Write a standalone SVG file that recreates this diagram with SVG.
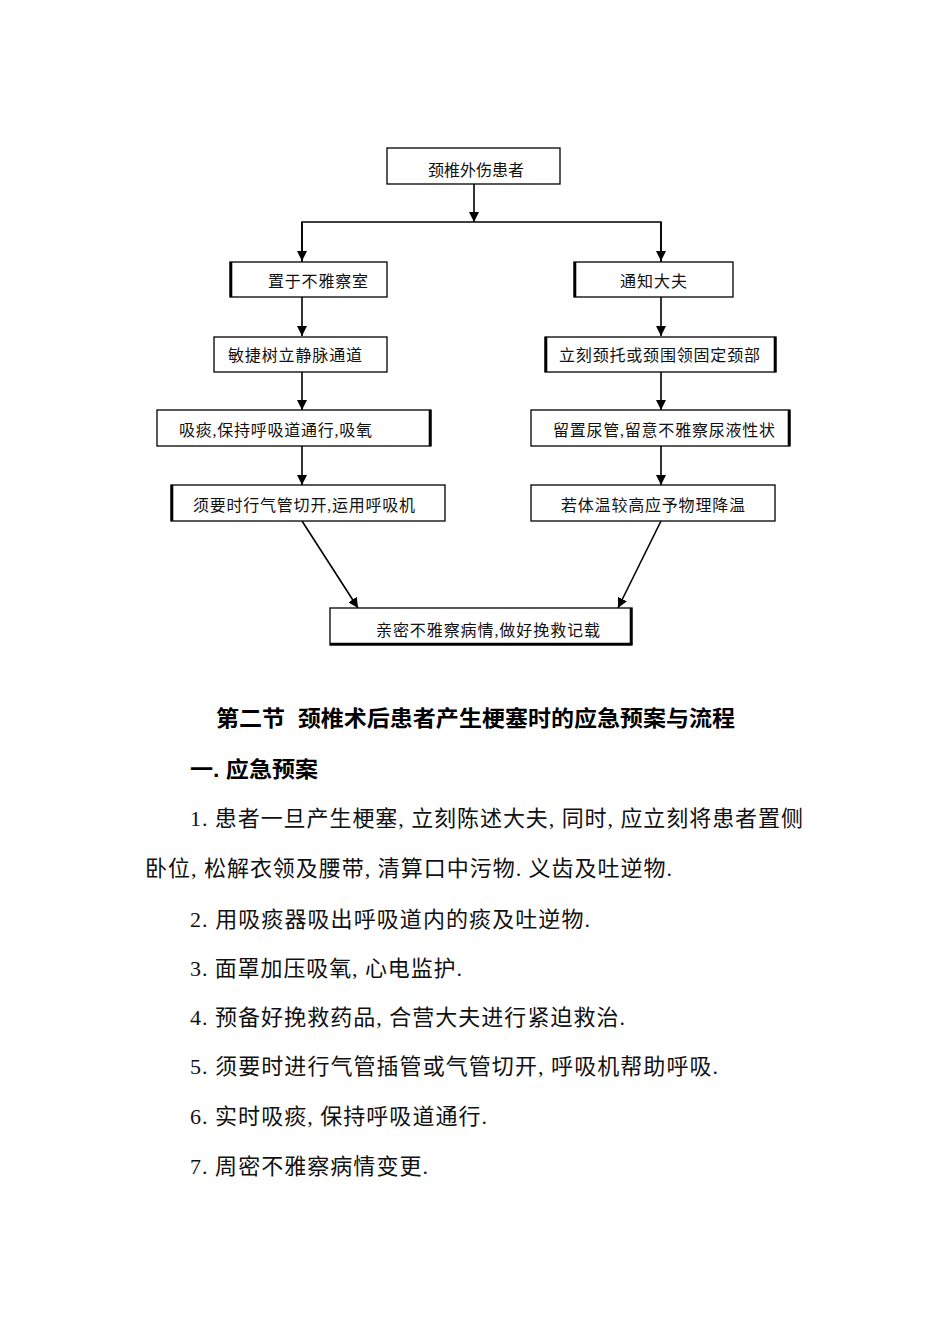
<svg xmlns="http://www.w3.org/2000/svg" width="950" height="1344" viewBox="0 0 950 1344">
<style>
.box{fill:#fff;stroke:#000;stroke-width:1.3}
.thk{stroke:#000;stroke-width:2.6}
.ft{font-family:"Liberation Serif","Noto Sans CJK SC",serif;font-size:16px;fill:#111}
.con{fill:none;stroke:#000;stroke-width:1.6}
.bt{font-family:"Liberation Serif","Noto Sans CJK SC",serif;font-size:22px;fill:#111}
.hd{font-family:"Liberation Sans","Noto Sans CJK SC",sans-serif;font-size:22px;font-weight:bold;fill:#000}
</style>
<defs>
<marker id="ah" markerWidth="10" markerHeight="10" refX="10" refY="5" orient="auto" markerUnits="userSpaceOnUse">
<path d="M0,0 L10,5 L0,10 Z" fill="#000"/>
</marker>
</defs>
<rect width="950" height="1344" fill="#fff"/>
<g id="connectors">
<line class="con" x1="474" y1="184" x2="474" y2="222" marker-end="url(#ah)"/>
<polyline class="con" points="302,262 302,222 661,222 661,262"/>
<line class="con" x1="302" y1="222" x2="302" y2="261" marker-end="url(#ah)"/>
<line class="con" x1="661" y1="222" x2="661" y2="261" marker-end="url(#ah)"/>
<line class="con" x1="302" y1="297" x2="302" y2="336" marker-end="url(#ah)"/>
<line class="con" x1="661" y1="297" x2="661" y2="336" marker-end="url(#ah)"/>
<line class="con" x1="302" y1="372" x2="302" y2="410" marker-end="url(#ah)"/>
<line class="con" x1="661" y1="372" x2="661" y2="410" marker-end="url(#ah)"/>
<line class="con" x1="302" y1="446" x2="302" y2="485" marker-end="url(#ah)"/>
<line class="con" x1="661" y1="446" x2="661" y2="485" marker-end="url(#ah)"/>
<line class="con" x1="302" y1="521" x2="358" y2="608" marker-end="url(#ah)"/>
<line class="con" x1="661" y1="521" x2="618" y2="608" marker-end="url(#ah)"/>
</g>
<g id="n1"><rect class="box" x="387" y="148" width="173" height="36"/><text class="ft" x="428" y="176" textLength="96">颈椎外伤患者</text></g>
<g id="n2"><rect class="box" x="230" y="262" width="157" height="35"/><line class="thk" x1="231" y1="262" x2="231" y2="297"/><text class="ft" x="268" y="287" textLength="100">置于不雅察室</text></g>
<g id="n3"><rect class="box" x="574" y="262" width="159" height="35"/><line class="thk" x1="575" y1="262" x2="575" y2="297"/><text class="ft" x="620" y="287" textLength="67">通知大夫</text></g>
<g id="n4"><rect class="box" x="214" y="337" width="173" height="35"/><text class="ft" x="228" y="361" textLength="134">敏捷树立静脉通道</text></g>
<g id="n5"><rect class="box" x="545" y="337" width="231" height="35"/><line class="thk" x1="546" y1="337" x2="546" y2="372"/><line class="thk" x1="775" y1="337" x2="775" y2="372"/><text class="ft" x="559" y="361" textLength="201">立刻颈托或颈围领固定颈部</text></g>
<g id="n6"><rect class="box" x="157" y="410" width="274" height="36"/><line class="thk" x1="430" y1="410" x2="430" y2="446"/><text class="ft" x="179" y="436" textLength="193">吸痰,保持呼吸道通行,吸氧</text></g>
<g id="n7"><rect class="box" x="531" y="410" width="259" height="36"/><line class="thk" x1="789" y1="410" x2="789" y2="446"/><text class="ft" x="553" y="436" textLength="222">留置尿管,留意不雅察尿液性状</text></g>
<g id="n8"><rect class="box" x="171" y="485" width="274" height="36"/><line class="thk" x1="172" y1="485" x2="172" y2="521"/><text class="ft" x="193" y="511" textLength="222">须要时行气管切开,运用呼吸机</text></g>
<g id="n9"><rect class="box" x="531" y="485" width="244" height="36"/><text class="ft" x="561" y="511" textLength="184">若体温较高应予物理降温</text></g>
<g id="n10"><rect class="box" x="330" y="608" width="302" height="37"/><line class="thk" x1="631" y1="608" x2="631" y2="645"/><line class="thk" x1="330" y1="644" x2="632" y2="644"/><text class="ft" x="376" y="636" textLength="224">亲密不雅察病情,做好挽救记载</text></g>
<g id="text">
<text class="hd" x="216" y="726" xml:space="preserve" textLength="519" lengthAdjust="spacingAndGlyphs">第二节  颈椎术后患者产生梗塞时的应急预案与流程</text>
<text class="hd" x="190" y="777" textLength="128" lengthAdjust="spacingAndGlyphs">一. 应急预案</text>
<text class="bt" x="190" y="826" textLength="613">1. 患者一旦产生梗塞, 立刻陈述大夫, 同时, 应立刻将患者置侧</text>
<text class="bt" x="145" y="876" textLength="527">卧位, 松解衣领及腰带, 清算口中污物. 义齿及吐逆物.</text>
<text class="bt" x="190" y="927" textLength="400">2. 用吸痰器吸出呼吸道内的痰及吐逆物.</text>
<text class="bt" x="190" y="976" textLength="272">3. 面罩加压吸氧, 心电监护.</text>
<text class="bt" x="190" y="1025" textLength="435">4. 预备好挽救药品, 合营大夫进行紧迫救治.</text>
<text class="bt" x="190" y="1074" textLength="528">5. 须要时进行气管插管或气管切开, 呼吸机帮助呼吸.</text>
<text class="bt" x="190" y="1124" textLength="297">6. 实时吸痰, 保持呼吸道通行.</text>
<text class="bt" x="190" y="1174" textLength="238">7. 周密不雅察病情变更.</text>
</g>
</svg>
